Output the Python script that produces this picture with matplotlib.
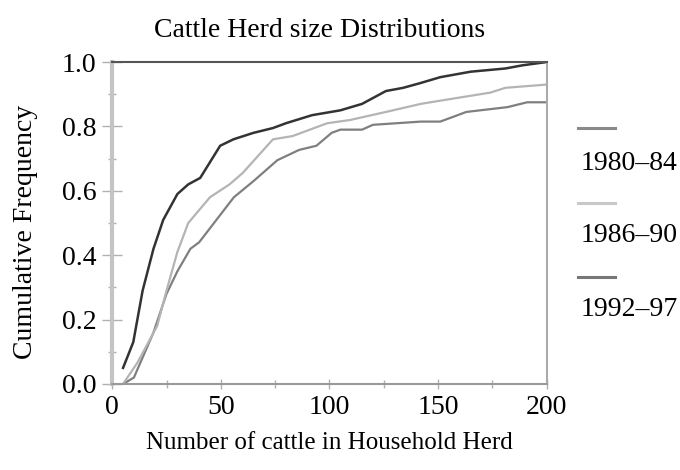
import matplotlib
matplotlib.use("Agg")
import matplotlib.pyplot as plt
from matplotlib.lines import Line2D
from matplotlib.ticker import MultipleLocator

plt.rcParams['font.family'] = ['Liberation Serif', 'DejaVu Serif']

# --- data ---
herd_80 = [5, 10, 19, 25, 30, 36, 40, 48, 56, 65, 76, 86, 94, 101, 105, 115, 120, 142, 151, 163, 182, 191, 200]
freq_80 = [0.0, 0.02, 0.16, 0.28, 0.35, 0.42, 0.44, 0.51, 0.58, 0.63, 0.695, 0.727, 0.74, 0.78, 0.79, 0.79, 0.805, 0.815, 0.815, 0.845, 0.86, 0.875, 0.875]

herd_86 = [5, 11.5, 20.7, 25, 30, 35, 45, 54, 60, 74, 83, 99, 109.5, 126, 142, 151, 174, 181, 200]
freq_86 = [0.0, 0.065, 0.18, 0.29, 0.41, 0.5, 0.58, 0.62, 0.655, 0.76, 0.77, 0.81, 0.82, 0.845, 0.87, 0.88, 0.905, 0.92, 0.93]

herd_92 = [5, 9.7, 14, 19, 23.5, 30, 35, 40.5, 49.7, 55.8, 65, 74, 80, 92, 105, 115, 126, 134, 142, 151, 165, 181, 189, 200]
freq_92 = [0.05, 0.13, 0.29, 0.42, 0.51, 0.59, 0.62, 0.64, 0.74, 0.76, 0.78, 0.795, 0.81, 0.835, 0.85, 0.87, 0.91, 0.92, 0.935, 0.953, 0.97, 0.98, 0.99, 1.0]

labels = ['1980\u201384', '1986\u201390', '1992\u201397']
colors = ['#7f7f7f', '#b4b4b4', '#333333']
legend_colors = ['#8a8a8a', '#c8c8c8', '#777777']

fig = plt.figure(figsize=(6.8, 4.7), dpi=100)
ax = fig.add_axes([0.165, 0.183, 0.639, 0.685])

ax.plot(herd_80, freq_80, color=colors[0], lw=1.6)
ax.plot(herd_86, freq_86, color=colors[1], lw=1.6)
ax.plot(herd_92, freq_92, color=colors[2], lw=1.8)

ax.set_xlim(0, 200)
ax.set_ylim(0, 1.0)
ax.xaxis.set_major_locator(MultipleLocator(50))
ax.xaxis.set_minor_locator(MultipleLocator(25))
ax.yaxis.set_major_locator(MultipleLocator(0.2))
ax.yaxis.set_minor_locator(MultipleLocator(0.1))
ax.yaxis.set_major_formatter(plt.FuncFormatter(lambda v, p: f"{v:.1f}"))

ax.spines['top'].set_color('#555555')
ax.spines['top'].set_linewidth(1.5)
ax.spines['left'].set_color('#c4c4c4')
ax.spines['left'].set_linewidth(3)
ax.spines['bottom'].set_color('#999999')
ax.spines['bottom'].set_linewidth(1.5)
ax.spines['right'].set_color('#aaaaaa')
ax.spines['right'].set_linewidth(1.5)

ax.tick_params(which='both', direction='inout', color='#b0b0b0', width=1, labelsize=20)
ax.tick_params(axis='y', which='major', length=14, pad=4.5)
ax.tick_params(axis='y', which='minor', length=6)
ax.tick_params(axis='x', which='major', length=7, pad=4.5)
ax.tick_params(axis='x', which='minor', length=6)

fig.text(0.47, 0.936, 'Cattle Herd size Distributions', ha='center', va='center', fontsize=20)
fig.text(0.485, 0.058, 'Number of cattle in Household Herd', ha='center', va='center', fontsize=18)
fig.text(0.038, 0.506, 'Cumulative Frequency', ha='center', va='center', rotation=90, fontsize=20)

# legend: short line above each label
for i, (lab, c) in enumerate(zip(labels, legend_colors)):
    y_line = 1 - (128 + 74.5 * i) / 470
    y_text = 1 - (163 + 73 * i) / 470
    fig.add_artist(Line2D([578 / 680, 615 / 680], [y_line, y_line], color=c, lw=2.2))
    fig.text(581 / 680, y_text, lab, ha='left', va='center', fontsize=20)

fig.savefig('out.png', dpi=100)
